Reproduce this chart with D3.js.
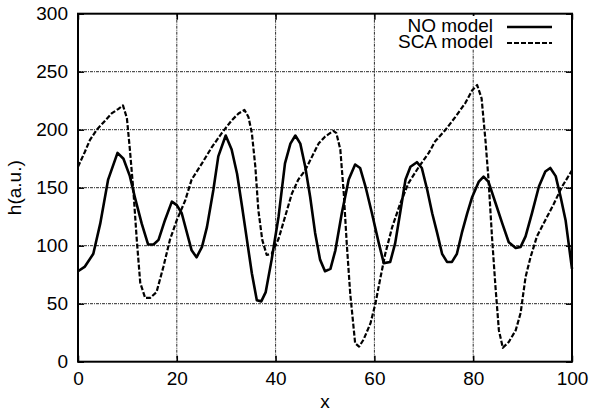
<!DOCTYPE html>
<html>
<head>
<meta charset="utf-8">
<script src="https://cdn.jsdelivr.net/npm/d3@7"></script>
<style>
  html, body { margin: 0; padding: 0; background: #fff; }
  svg { display: block; }
  text { font-family: "Liberation Sans", Arial, Helvetica, sans-serif; }
</style>
</head>
<body>
<svg id="chart" width="589" height="415"></svg>
<script>
// Axis tick values
const xTicks = [0, 20, 40, 60, 80, 100];
const yTicks = [0, 50, 100, 150, 200, 250, 300];

// NO model: sampled x positions and h values
const noX = [0, 1.4, 3.1, 4.5, 6.1, 8.0, 9.2, 10.5, 11.5, 12.9, 14.2, 15.3, 16.3, 17.6, 19.0, 20.0,
  21.0, 23.0, 24.0, 25.1, 26.1, 27.4, 28.4, 29.9, 31.1, 32.2, 33.2, 34.2, 35.2, 36.2, 37.1, 38.0,
  39.2, 40.6, 41.9, 43.0, 44.0, 45.0, 46.0, 47.0, 48.0, 49.0, 50.0, 51.1, 52.1, 53.4, 54.8, 56.1,
  57.1, 58.2, 59.5, 60.9, 61.9, 63.2, 64.2, 65.2, 66.3, 67.3, 68.6, 69.6, 70.7, 71.7, 72.7, 73.7,
  74.7, 75.7, 76.7, 77.7, 78.8, 79.8, 81.1, 82.1, 83.1, 84.5, 85.9, 87.2, 88.6, 89.6, 90.6, 91.9,
  93.3, 94.6, 95.6, 96.7, 97.7, 98.7, 100];
const noY = [78, 82, 93, 119, 157, 180, 175, 160, 142, 119, 101, 101, 105, 122, 138, 135,
  128, 96, 90, 99, 116, 148, 177, 195, 183, 162, 134, 105, 76, 53, 52, 60,
  88, 125, 171, 188, 195, 188, 168, 142, 111, 88, 78, 80, 96, 128, 157, 170,
  167, 151, 128, 102, 85, 86, 102, 128, 157, 168, 172, 167, 148, 128, 111, 93,
  86, 86, 93, 111, 128, 142, 155, 159.5, 155, 137, 119, 103, 98, 99, 108, 128,
  151, 164, 167, 160, 142, 122, 80];

// SCA model: sampled x positions and h values
const scaX = [0, 1.4, 2.4, 3.8, 5.1, 6.8, 8.2, 9.1, 9.9, 10.5, 11.2, 11.9, 12.6, 13.6, 14.6, 15.9,
  17.3, 18.6, 20.0, 21.7, 23.0, 25.1, 27.1, 29.1, 31.1, 32.5, 33.7, 34.5, 35.2, 35.9, 36.5, 37.3,
  38.2, 39.2, 40.6, 41.3, 43.3, 44.6, 46.0, 47.4, 48.7, 50.0, 51.7, 52.3, 53.1, 53.8, 54.4, 55.1,
  56.1, 56.9, 57.8, 59.2, 60.2, 61.2, 62.2, 63.6, 65.2, 66.9, 69.0, 71.0, 72.3, 74.4, 76.4, 78.4,
  79.8, 80.8, 81.7, 82.5, 83.1, 83.8, 84.5, 85.2, 86.0, 87.2, 88.6, 89.6, 90.6, 91.6, 92.9, 94.6,
  96.3, 98.0, 100];
const scaY = [168, 181, 191, 200, 206, 214, 218, 221, 210, 183, 148, 105, 68, 55, 55, 60,
  82, 105, 122, 139, 157, 171, 185, 197, 208, 214, 217, 211, 197, 168, 131, 105,
  92, 93, 106, 116, 145, 157, 165, 177, 188, 194, 199, 197, 183, 145, 102, 59,
  16, 13, 19, 33, 50, 72, 93, 116, 136, 154, 168, 180, 190, 200, 211, 223,
  234, 238.5, 227, 190, 157, 108, 65, 27, 12, 17, 27, 42, 73, 90, 108, 122,
  136, 151, 165];

const seriesNames = ["NO model", "SCA model"];
const xLabel = "x";
const yLabel = "h(a.u.)";

const svg = d3.select("#chart");
const plotLeft = 78, plotRight = 572, plotTop = 13.7, plotBottom = 361.7;

const x = d3.scaleLinear().domain([0, 100]).range([plotLeft, plotRight]);
const y = d3.scaleLinear().domain([0, 300]).range([plotBottom, plotTop]);

// grid
const grid = svg.append("g")
  .attr("stroke", "#2a2a2a").attr("stroke-width", 1)
  .attr("stroke-dasharray", "3,1,1,1").attr("fill", "none");
xTicks.filter(t => t > 0 && t < 100).forEach(t => {
  grid.append("line").attr("x1", x(t)).attr("x2", x(t)).attr("y1", plotTop).attr("y2", plotBottom);
});
yTicks.filter(t => t > 0 && t < 300).forEach(t => {
  grid.append("line").attr("x1", plotLeft).attr("x2", plotRight).attr("y1", y(t)).attr("y2", y(t));
});

// axes with inward ticks on all four sides
const fontSize = 19;
function styleAxis(g, showText) {
  g.select(".domain").remove();
  g.selectAll(".tick line").attr("stroke", "#000").attr("stroke-width", 1.5);
  g.selectAll(".tick text").attr("fill", "#000")
    .style("font-size", fontSize + "px")
    .style("font-family", '"Liberation Sans", Arial, Helvetica, sans-serif');
  if (!showText) g.selectAll(".tick text").remove();
}
svg.append("g").attr("transform", `translate(0,${plotBottom})`)
  .call(d3.axisBottom(x).tickValues(xTicks).tickSize(-6).tickPadding(10).tickFormat(d3.format("d")))
  .call(g => styleAxis(g, true));
svg.append("g").attr("transform", `translate(0,${plotTop})`)
  .call(d3.axisTop(x).tickValues(xTicks).tickSize(-6))
  .call(g => styleAxis(g, false));
svg.append("g").attr("transform", `translate(${plotLeft},0)`)
  .call(d3.axisLeft(y).tickValues(yTicks).tickSize(-6).tickPadding(10).tickFormat(d3.format("d")))
  .call(g => styleAxis(g, true));
svg.append("g").attr("transform", `translate(${plotRight},0)`)
  .call(d3.axisRight(y).tickValues(yTicks).tickSize(-6))
  .call(g => styleAxis(g, false));

// curves
const line = d3.line().x(d => x(d[0])).y(d => y(d[1])).curve(d3.curveLinear);
const noData = noX.map((v, i) => [v, noY[i]]);
const scaData = scaX.map((v, i) => [v, scaY[i]]);

svg.append("path").datum(scaData).attr("d", line)
  .attr("fill", "none").attr("stroke", "#000").attr("stroke-width", 2.2)
  .attr("stroke-dasharray", "5,2").attr("stroke-linejoin", "round");
svg.append("path").datum(noData).attr("d", line)
  .attr("fill", "none").attr("stroke", "#000").attr("stroke-width", 2.6)
  .attr("stroke-linejoin", "round");

// legend
const legend = svg.append("g");
legend.append("rect").attr("x", 400).attr("y", 16).attr("width", 158).attr("height", 33).attr("fill", "#fff");
const legendRows = [
  { name: seriesNames[0], base: 32, dash: null, w: 2.6 },
  { name: seriesNames[1], base: 48, dash: "5,2", w: 2.2 }
];
legendRows.forEach(r => {
  legend.append("text").attr("x", 493).attr("y", r.base).attr("text-anchor", "end")
    .style("font-size", fontSize + "px").text(r.name);
  const l = legend.append("line").attr("x1", 507).attr("x2", 552)
    .attr("y1", r.base - 5).attr("y2", r.base - 5)
    .attr("stroke", "#000").attr("stroke-width", r.w);
  if (r.dash) l.attr("stroke-dasharray", r.dash);
});

// frame
svg.append("rect").attr("x", plotLeft).attr("y", plotTop)
  .attr("width", plotRight - plotLeft).attr("height", plotBottom - plotTop)
  .attr("fill", "none").attr("stroke", "#000").attr("stroke-width", 2);

// axis titles
svg.append("text").attr("x", (plotLeft + plotRight) / 2).attr("y", 408).attr("text-anchor", "middle")
  .style("font-size", fontSize + "px").text(xLabel);
svg.append("text").attr("transform", `translate(21,${(plotTop + plotBottom) / 2}) rotate(-90)`)
  .attr("text-anchor", "middle").style("font-size", fontSize + "px").text(yLabel);
</script>
</body>
</html>
